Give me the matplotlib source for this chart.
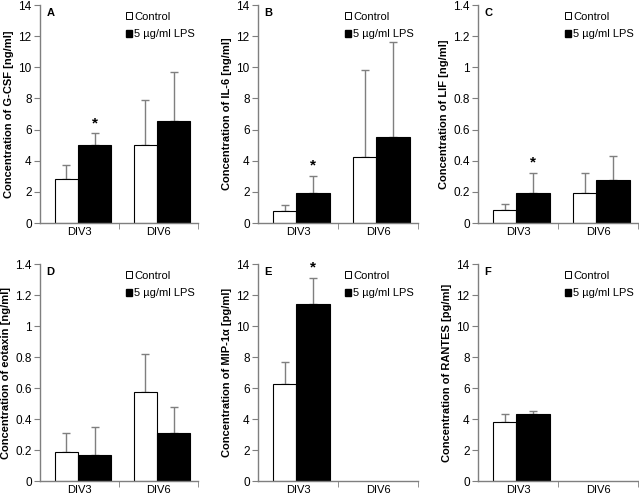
import matplotlib
matplotlib.use("Agg")
import matplotlib.pyplot as plt
from matplotlib.patches import Patch
from matplotlib.ticker import FuncFormatter
import numpy as np

plt.rcParams['font.family'] = ['Liberation Sans', 'DejaVu Sans']

categories = ["DIV3", "DIV6"]
series_names = ["Control", "5 \u00b5g/ml LPS"]

panel_letters = ["A", "B", "C", "D", "E", "F"]
ylabels = ["Concentration of G-CSF [ng/ml]", "Concentration of IL-6 [ng/ml]",
           "Concentration of LIF [ng/ml]", "Concentration of eotaxin [ng/ml]",
           "Concentration of MIP-1\u03b1 [pg/ml]", "Concentration of RANTES [pg/ml]"]
ymax = [14, 14, 1.4, 1.4, 14, 14]
ystep = [2, 2, 0.2, 0.2, 2, 2]

control_means = [[2.8, 5.0], [0.8, 4.25], [0.085, 0.19], [0.19, 0.575], [6.25, np.nan], [3.8, np.nan]]
control_err   = [[0.9, 2.9], [0.35, 5.55], [0.035, 0.13], [0.12, 0.245], [1.45, np.nan], [0.55, np.nan]]
lps_means     = [[5.0, 6.55], [1.95, 5.55], [0.195, 0.275], [0.165, 0.31], [11.4, np.nan], [4.3, np.nan]]
lps_err       = [[0.75, 3.15], [1.1, 6.1], [0.125, 0.155], [0.185, 0.165], [1.7, np.nan], [0.2, np.nan]]
significant   = [True, True, True, False, True, False]

fig = plt.figure(figsize=(6.39, 4.98), dpi=100)
W, H = 639.0, 498.0
lefts = [40, 258, 478]
rights = [198, 418, 638]
rows = [(5, 223), (264, 481)]

gray = '#7f7f7f'
for i in range(6):
    r, c = divmod(i, 3)
    top, bot = rows[r]
    ax = fig.add_axes([lefts[c] / W, 1 - bot / H, (rights[c] - lefts[c]) / W, (bot - top) / H])
    x = np.arange(len(categories))
    cw, lw = 0.29, 0.42
    cx = x - 0.02 - cw / 2
    lx = x - 0.02 + lw / 2
    cm = np.array(control_means[i]); ce = np.array(control_err[i])
    lm = np.array(lps_means[i]); le = np.array(lps_err[i])
    ax.bar(cx, cm, width=cw, color='white', edgecolor='black', linewidth=0.8, zorder=2)
    ax.bar(lx, lm, width=lw, color='black', edgecolor='black', linewidth=0.8, zorder=2)
    ax.errorbar(cx, cm, yerr=[np.zeros_like(ce), ce], fmt='none', ecolor=gray, elinewidth=1.0, capsize=3, capthick=1.0, zorder=1)
    ax.errorbar(lx, lm, yerr=[np.zeros_like(le), le], fmt='none', ecolor=gray, elinewidth=1.0, capsize=3, capthick=1.0, zorder=1)
    if significant[i]:
        ax.text(lx[0], lm[0] + le[0] + ymax[i] * 0.015, "*", ha='center', va='bottom', fontsize=11, fontweight='bold')
    ax.set_xlim(-0.5, 1.5)
    ax.set_ylim(0, ymax[i])
    ax.set_yticks(np.arange(0, ymax[i] + ystep[i] / 2, ystep[i]))
    ax.yaxis.set_major_formatter(FuncFormatter(lambda v, p: ('%.1f' % v).rstrip('0').rstrip('.') if v != 0 else '0'))
    ax.set_xticks(x)
    ax.set_xticklabels(categories)
    ax.set_xticks([0.5, 1.5], minor=True)
    ax.tick_params(axis='x', which='major', length=0, pad=3, labelsize=8)
    ax.tick_params(axis='x', which='minor', length=4, color=gray, direction='out')
    ax.tick_params(axis='y', length=4, color=gray, labelsize=8.5, pad=2)
    for s in ['top', 'right']:
        ax.spines[s].set_visible(False)
    for s in ['left', 'bottom']:
        ax.spines[s].set_color(gray)
        ax.spines[s].set_linewidth(1.0)
    ax.set_ylabel(ylabels[i], fontsize=8, fontweight='bold', labelpad=3)
    ax.text(0.04, 0.985, panel_letters[i], transform=ax.transAxes, ha='left', va='top', fontsize=8, fontweight='bold')
    handles = [Patch(facecolor='white', edgecolor='black', linewidth=0.7), Patch(facecolor='black', edgecolor='black')]
    ax.legend(handles, series_names, loc='upper left', bbox_to_anchor=(0.5, 1.0), frameon=False,
              fontsize=8, handlelength=0.6, handleheight=0.6, handletextpad=0.15, labelspacing=0.7, borderaxespad=0.2)

fig.savefig("out.png", dpi=100)
